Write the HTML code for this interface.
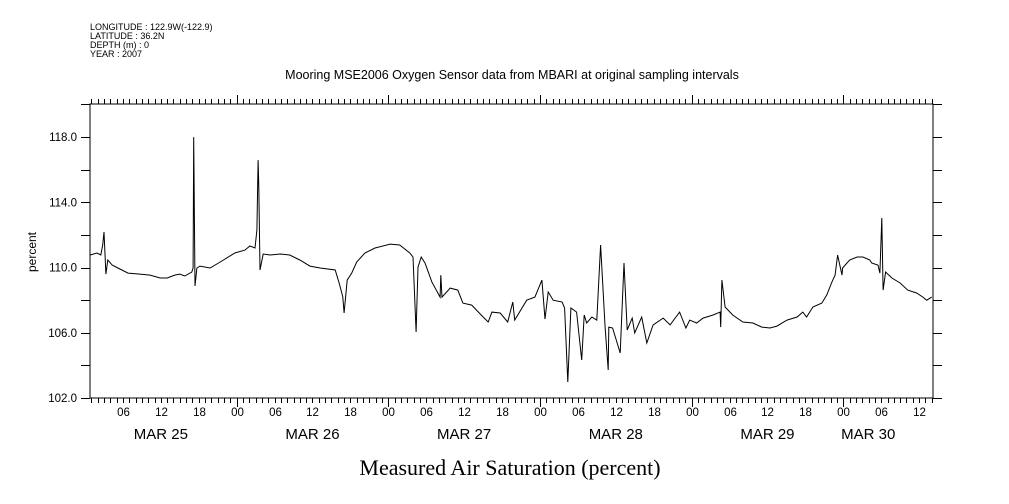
<!DOCTYPE html>
<html><head><meta charset="utf-8"><style>
body{margin:0;background:#fff;}
svg{display:block;font-family:"Liberation Sans",sans-serif;}
</style></head><body>
<svg id="c" width="1009" height="504" viewBox="0 0 1009 504">
<g font-size="9" fill="#000">
<text x="90" y="30">LONGITUDE : 122.9W(-122.9)</text>
<text x="90" y="39">LATITUDE : 36.2N</text>
<text x="90" y="48">DEPTH (m) : 0</text>
<text x="90" y="57">YEAR : 2007</text>
</g>
<text x="512" y="79" font-size="12.5" text-anchor="middle">Mooring MSE2006 Oxygen Sensor data from MBARI at original sampling intervals</text>
<text x="510" y="475" font-size="22" text-anchor="middle" font-family="Liberation Serif, serif">Measured Air Saturation (percent)</text>
<text x="36" y="252" font-size="12" text-anchor="middle" transform="rotate(-90 36 252)">percent</text>
<g id="axes"></g>
<path id="line" fill="none" stroke="#000" stroke-width="1"/>
</svg>
<script>
const hours=[0.8,1.9,2.5,2.8,3.0,3.3,3.6,4.3,5.2,6.8,8.7,10.3,11.9,13.0,14.2,15.0,15.8,16.9,17.1,17.2,17.4,17.7,18.2,19.8,21.4,23.7,25.3,26.1,26.9,27.2,27.4,27.5,27.7,28.2,29.3,30.9,32.4,34.0,35.6,37.2,39.6,40.3,40.8,41.0,41.5,42.2,43.0,44.3,45.9,48.3,49.8,51.4,51.9,52.4,52.7,53.2,53.8,54.9,56.2,56.3,56.5,57.8,59.0,59.8,61.2,63.0,63.8,64.4,65.7,66.9,67.7,68.0,69.9,71.2,72.3,72.8,73.3,74.1,75.5,75.9,76.4,76.9,77.8,78.6,79.0,79.4,80.2,81.0,81.6,82.3,82.8,82.9,83.5,84.7,85.3,85.8,86.6,87.0,88.1,88.9,89.9,91.5,92.6,94.1,95.1,95.7,96.8,97.8,99.4,100.5,100.6,100.8,101.3,102.5,104.1,105.7,107.1,108.4,109.5,111.1,112.7,113.6,114.2,115.2,116.6,117.4,118.2,118.7,119.1,119.8,119.9,121.0,122.2,123.1,124.2,124.5,125.5,125.8,126.1,126.3,126.7,127.7,129.0,130.2,131.6,132.6,133.2,134.0];
const values=[110.77,110.89,110.77,111.38,112.18,109.6,110.46,110.15,109.97,109.66,109.6,109.54,109.36,109.36,109.54,109.6,109.48,109.73,109.97,118.0,108.87,109.97,110.09,109.97,110.34,110.89,111.07,111.32,111.2,112.3,116.59,114.94,109.85,110.83,110.77,110.83,110.77,110.46,110.09,109.97,109.85,108.93,108.2,107.21,109.23,109.66,110.34,110.89,111.2,111.44,111.38,110.89,110.65,106.05,110.03,110.65,110.28,109.11,108.19,109.54,108.19,108.74,108.62,107.82,107.7,106.97,106.66,107.27,107.21,106.66,107.89,106.78,108.0,108.19,109.23,106.84,108.5,108.0,107.89,107.52,102.98,107.52,107.27,104.33,107.09,106.6,106.97,106.78,111.38,106.35,103.72,106.35,106.29,104.76,110.28,106.17,106.9,105.99,106.97,105.37,106.48,106.9,106.48,107.27,106.29,106.78,106.6,106.9,107.09,107.27,106.35,109.23,107.58,107.09,106.66,106.6,106.35,106.29,106.41,106.78,106.97,107.27,106.97,107.58,107.82,108.32,109.11,109.54,110.77,109.54,109.97,110.46,110.65,110.65,110.46,110.28,110.15,109.66,113.04,108.62,109.73,109.36,109.05,108.62,108.44,108.19,108.0,108.19];
const yTickLabels=["102.0","106.0","110.0","114.0","118.0"];
const dayLabels=["MAR 25","MAR 26","MAR 27","MAR 28","MAR 29","MAR 30"];
const hourLabels=["00","06","12","18"];

const X0=90,X1=933,Y0=398,Y1=104;
const hMin=0.79,hMax=134.2,vMin=102,vMax=120.03;
const xs=h=>X0+(h-hMin)/(hMax-hMin)*(X1-X0);
const ys=v=>Y0-(v-vMin)/(vMax-vMin)*(Y0-Y1);
const NS="http://www.w3.org/2000/svg";
const ax=document.getElementById('axes');
function mk(tag,attrs){const e=document.createElementNS(NS,tag);for(const k in attrs)e.setAttribute(k,attrs[k]);ax.appendChild(e);return e;}
let d=`M${X0},${Y1}H${X1}V${Y0}H${X0}Z`;
for(let h=Math.ceil(hMin);h<=hMax;h++){
  const x=Math.round(xs(h))+0.5, major=h%24===0;
  const L=major?9:5;
  d+=`M${x},${Y0}v${L}M${x},${Y1}v${-L}`;
  if(h%6===0){
    const t=mk('text',{x:x,y:416,'font-size':11.5,'text-anchor':'middle'});
    
    
    t.textContent=hourLabels[(h%24)/6];
  }
}
for(let i=0;i<dayLabels.length;i++){
  let cx=xs(i*24+12);
  if(cx>X1-40) cx=xs(i*24)+25;
  const t=mk('text',{x:cx,y:439,'font-size':15,'text-anchor':'middle'});
  
  
  t.textContent=dayLabels[i];
}
for(let v=102;v<=120;v+=2){
  const y=Math.round(ys(v))+0.5;
  d+=`M${X0-9},${y}H${X0}M${X1},${y}h9`;
}
yTickLabels.forEach(s=>{
  const t=mk('text',{x:77,y:ys(parseFloat(s))+4,'font-size':11.5,'text-anchor':'end'});
  
  
  t.textContent=s;
});
const fr=mk('path',{d:d,stroke:'#000','stroke-width':1,fill:'none'});


let p='';
hours.forEach((h,i)=>{p+=(i?'L':'M')+xs(h).toFixed(1)+','+ys(values[i]).toFixed(1);});
document.getElementById('line').setAttribute('d',p);
</script>
</body></html>
